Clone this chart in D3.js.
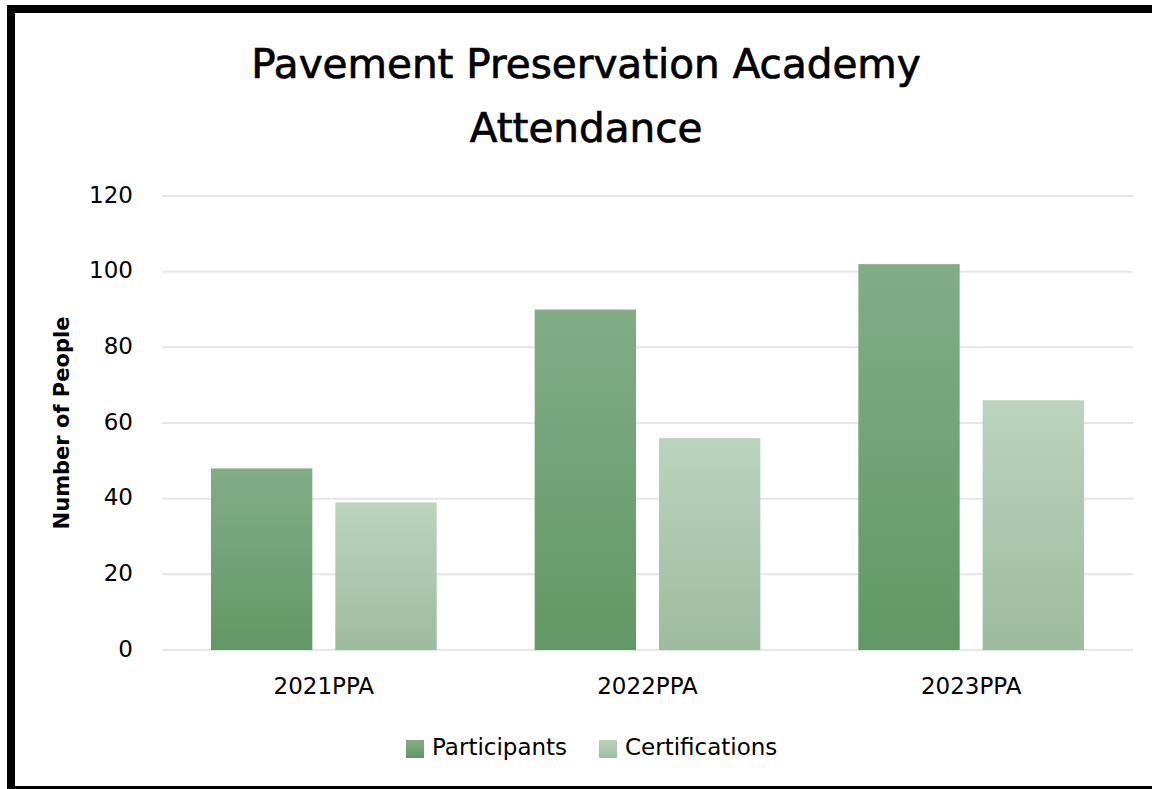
<!DOCTYPE html>
<html>
<head>
<meta charset="utf-8">
<script src="https://cdn.jsdelivr.net/npm/d3@7"></script>
<style>
  body { margin: 0; background: #fff; }
  svg { display: block; font-family: 'DejaVu Sans', sans-serif; }
</style>
</head>
<body>
<div id="chart"></div>
<script>
// chart data
var categories = ['2021PPA', '2022PPA', '2023PPA'];
var seriesNames = ['Participants', 'Certifications'];
var participants = [48, 90, 102];
var certifications = [39, 56, 66];
var yTicks = [0, 20, 40, 60, 80, 100, 120];

var W = 1152, H = 789;
var margin = { top: 196, right: 19, bottom: 139, left: 162 };
var width = W - margin.left - margin.right;
var height = H - margin.top - margin.bottom;

var rows = categories.map(function(c, i) {
  return { cat: c, values: [participants[i], certifications[i]] };
});

var svg = d3.select('#chart').append('svg')
  .attr('width', W)
  .attr('height', H);

var defs = svg.append('defs');
var grads = [
  { id: 'g-part', top: '#82ad87', bottom: '#619865' },
  { id: 'g-cert', top: '#bbd4bd', bottom: '#9dbb9e' }
];
grads.forEach(function(g) {
  var lg = defs.append('linearGradient')
    .attr('id', g.id)
    .attr('x1', 0).attr('y1', 0).attr('x2', 0).attr('y2', 1);
  lg.append('stop').attr('offset', '0%').attr('stop-color', g.top);
  lg.append('stop').attr('offset', '100%').attr('stop-color', g.bottom);
});

// frame
svg.append('rect')
  .attr('x', 0).attr('y', 0).attr('width', W).attr('height', H)
  .attr('fill', '#fff');
svg.append('path')
  .attr('d', 'M11,789 V9 H1152')
  .attr('fill', 'none').attr('stroke', '#000').attr('stroke-width', 8);
svg.append('line')
  .attr('x1', 7).attr('x2', 1152).attr('y1', 787.5).attr('y2', 787.5)
  .attr('stroke', '#000').attr('stroke-width', 3);

// title (slight stroke to get the heavier look)
var title = svg.append('text')
  .attr('text-anchor', 'middle')
  .attr('font-size', 40.5)
  .attr('fill', '#000')
  .attr('stroke', '#000')
  .attr('stroke-width', 0.7);
title.append('tspan').attr('x', 586).attr('y', 78).text('Pavement Preservation Academy');
title.append('tspan').attr('x', 586).attr('y', 142).text('Attendance');

var g = svg.append('g')
  .attr('transform', 'translate(' + margin.left + ',' + margin.top + ')');

var x0 = d3.scaleBand().domain(categories).range([0, width]).paddingInner(0).paddingOuter(0);
var x1 = d3.scaleBand().domain(seriesNames).range([49, x0.bandwidth() - 49]).paddingInner(0.185);
var y = d3.scaleLinear().domain([0, 120]).range([height, 0]);

// gridlines
g.append('g')
  .selectAll('line')
  .data(yTicks)
  .enter().append('line')
  .attr('x1', 0).attr('x2', width)
  .attr('y1', function(d) { return y(d); })
  .attr('y2', function(d) { return y(d); })
  .attr('stroke', '#e6e6e2')
  .attr('stroke-width', 2);

// y axis
var yAxis = d3.axisLeft(y).tickValues(yTicks).tickSize(0).tickPadding(29);
g.append('g')
  .attr('class', 'y axis')
  .call(yAxis)
  .call(function(s) { s.select('.domain').remove(); })
  .selectAll('text')
  .attr('font-family', "'DejaVu Sans', sans-serif")
  .attr('font-size', 23)
  .attr('fill', '#000')
  .attr('dy', '0.27em');

// x axis
var xAxis = d3.axisBottom(x0).tickSize(0).tickPadding(28);
g.append('g')
  .attr('class', 'x axis')
  .attr('transform', 'translate(0,' + height + ')')
  .call(xAxis)
  .call(function(s) { s.select('.domain').remove(); })
  .selectAll('text')
  .attr('font-family', "'DejaVu Sans', sans-serif")
  .attr('font-size', 23)
  .attr('fill', '#000');

// bars
var group = g.selectAll('.grp')
  .data(rows)
  .enter().append('g')
  .attr('class', 'grp')
  .attr('transform', function(d) { return 'translate(' + x0(d.cat) + ',0)'; });

group.selectAll('rect')
  .data(function(d) { return d.values.map(function(v, i) { return { key: seriesNames[i], value: v, i: i }; }); })
  .enter().append('rect')
  .attr('x', function(d) { return x1(d.key); })
  .attr('width', x1.bandwidth())
  .attr('y', function(d) { return y(d.value); })
  .attr('height', function(d) { return height - y(d.value); })
  .attr('fill', function(d) { return 'url(#' + grads[d.i].id + ')'; });

// y axis title
svg.append('text')
  .attr('transform', 'translate(69,423) rotate(-90)')
  .attr('text-anchor', 'middle')
  .attr('font-size', 21)
  .attr('font-weight', 'bold')
  .attr('fill', '#000')
  .text('Number of People');

// legend
var legendX = [406, 599];
var legend = svg.selectAll('.legend')
  .data(seriesNames)
  .enter().append('g')
  .attr('class', 'legend')
  .attr('transform', function(d, i) { return 'translate(' + legendX[i] + ',740)'; });
legend.append('rect')
  .attr('width', 18).attr('height', 18)
  .attr('fill', function(d, i) { return 'url(#' + grads[i].id + ')'; });
legend.append('text')
  .attr('x', 26).attr('y', 15)
  .attr('font-size', 23)
  .attr('fill', '#000')
  .text(function(d) { return d; });
</script>
</body>
</html>
